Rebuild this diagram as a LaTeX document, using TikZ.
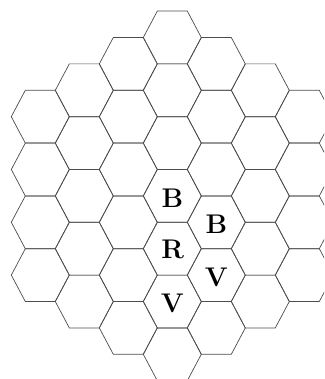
\documentclass[tikz,border=0pt]{standalone}
\begin{document}
\begin{tikzpicture}[x=1pt,y=-1pt,
  hexline/.style={line width=0.7pt, draw=black!70},
  lab/.style={font=\fontsize{27}{27}\selectfont\bfseries, inner sep=0pt}]
\useasboundingbox (0,0) rectangle (324,379);
\clip (0,0) rectangle (324,379);
\foreach \k in {-3,...,3}{
  \pgfmathsetmacro\cx{172.3+44*\k}
  \pgfmathsetmacro\ty{37.5+26.4*abs(\k)}
  \pgfmathtruncatemacro\n{6-abs(\k)}
  \foreach \j in {0,...,\n}{
    \pgfmathsetmacro\cy{\ty+52.8*\j}
    \draw[hexline] (\cx-29,\cy) -- (\cx-15,\cy-26.4) -- (\cx+15,\cy-26.4) -- (\cx+29,\cy) -- (\cx+15,\cy+26.4) -- (\cx-15,\cy+26.4) -- cycle;
  }
}
\node[lab] (b1) at (172.3,198.5) {B};
\node[lab] (b2) at (216.3,224.6) {B};
\node[lab] (r1) at (172.8,249.3) {R};
\node[lab] (v1) at (216.3,277.6) {V};
\node[lab] (v2) at (172.3,303.2) {V};
\end{tikzpicture}
\end{document}
